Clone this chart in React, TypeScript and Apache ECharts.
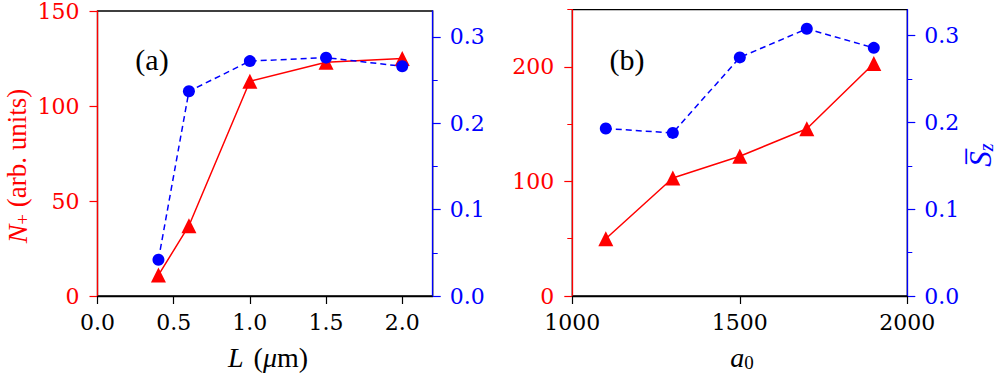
import React, { useEffect, useRef } from "react";
import * as echarts from "echarts";

const lValues = [0.4, 0.6, 1.0, 1.5, 2.0];
const nPlusA = [11, 37, 113, 123, 125];
const szA = [0.042, 0.237, 0.272, 0.276, 0.266];

const a0Values = [1100, 1300, 1500, 1700, 1900];
const nPlusB = [50, 103, 122, 146, 203];
const szB = [0.193, 0.188, 0.275, 0.308, 0.286];

const xTicksA = [0, 0.5, 1.0, 1.5, 2.0];
const szTicks = [0, 0.1, 0.2, 0.3];
const szMinor = [0.05, 0.15, 0.25];
const nTicksB = [0, 100, 200];
const nMinorB = [50, 150, 250];

const RED = "#ff0000";
const BLUE = "#0000ff";
const FONT = "'Liberation Serif', 'DejaVu Serif', serif";
const TICK_FONT = "DejaVu Serif";
const FS = 22;

const lab = (color: string, fmt: (v: number) => string) => ({
  formatter: fmt,
  fontFamily: TICK_FONT,
  fontSize: FS,
  color,
});

export default function App() {
  const ref = useRef<HTMLDivElement>(null);
  useEffect(() => {
    if (!ref.current) return;
    const chart = echarts.init(ref.current, null, { renderer: "svg" });
    const g0 = { left: 97.5, top: 9.7, width: 335.2, height: 286.3 };
    const g1 = { left: 572.3, top: 9.7, width: 335, height: 286.3 };
    const yAxisCommon = (grid: number, pos: string, color: string, min: number, max: number) => ({
      type: "value",
      gridIndex: grid,
      position: pos,
      min,
      max,
      splitLine: { show: false },
      axisLine: { show: true, lineStyle: { color, width: 1.3 } },
    });
    const f1 = (v: number) => v.toFixed(1);
    const f0 = (v: number) => String(v);
    const option: any = {
      animation: false,
      backgroundColor: "#ffffff",
      grid: [
        { ...g0, show: true, borderColor: "#000", borderWidth: 1.3, backgroundColor: "transparent" },
        { ...g1, show: true, borderColor: "#000", borderWidth: 1.3, backgroundColor: "transparent" },
      ],
      xAxis: [
        {
          type: "value",
          gridIndex: 0,
          min: 0,
          max: 2.2,
          splitLine: { show: false },
          axisLine: { show: true, onZero: false, lineStyle: { color: "#000", width: 1.3 } },
          axisTick: { show: true, length: 8, customValues: xTicksA, lineStyle: { color: "#000", width: 1.2 } },
          axisLabel: { ...lab("#000", f1), margin: 15, customValues: xTicksA },
        },
        {
          type: "value",
          gridIndex: 1,
          min: 1000,
          max: 2000,
          interval: 500,
          splitLine: { show: false },
          axisLine: { show: true, onZero: false, lineStyle: { color: "#000", width: 1.3 } },
          axisTick: { show: true, length: 8, lineStyle: { color: "#000", width: 1.2 } },
          axisLabel: { ...lab("#000", f0), margin: 15 },
        },
      ],
      yAxis: [
        {
          ...yAxisCommon(0, "left", RED, 0, 150),
          interval: 50,
          axisTick: { show: true, length: 8, lineStyle: { color: RED, width: 1.2 } },
          axisLabel: { ...lab(RED, f0), margin: 18 },
        },
        {
          ...yAxisCommon(0, "right", BLUE, 0, 0.33),
          axisTick: { show: true, length: 8, customValues: szTicks, lineStyle: { color: BLUE, width: 1.2 } },
          axisLabel: { ...lab(BLUE, f1), margin: 17, customValues: szTicks },
        },
        {
          ...yAxisCommon(0, "right", BLUE, 0, 0.33),
          axisLine: { show: false },
          axisTick: { show: true, length: 5, customValues: szMinor, lineStyle: { color: BLUE, width: 1 } },
          axisLabel: { show: false },
        },
        {
          ...yAxisCommon(1, "left", RED, 0, 250),
          axisTick: { show: true, length: 8, customValues: nTicksB, lineStyle: { color: RED, width: 1.2 } },
          axisLabel: { ...lab(RED, f0), margin: 18, customValues: nTicksB },
        },
        {
          ...yAxisCommon(1, "left", RED, 0, 250),
          axisLine: { show: false },
          axisTick: { show: true, length: 5, customValues: nMinorB, lineStyle: { color: RED, width: 1 } },
          axisLabel: { show: false },
        },
        {
          ...yAxisCommon(1, "right", BLUE, 0, 0.33),
          axisTick: { show: true, length: 8, customValues: szTicks, lineStyle: { color: BLUE, width: 1.2 } },
          axisLabel: { ...lab(BLUE, f1), margin: 17, customValues: szTicks },
        },
        {
          ...yAxisCommon(1, "right", BLUE, 0, 0.33),
          axisLine: { show: false },
          axisTick: { show: true, length: 5, customValues: szMinor, lineStyle: { color: BLUE, width: 1 } },
          axisLabel: { show: false },
        },
      ],
      series: [
        {
          type: "line",
          xAxisIndex: 0,
          yAxisIndex: 0,
          data: lValues.map((x, i) => [x, nPlusA[i]]),
          symbol: "triangle",
          symbolSize: 15,
          itemStyle: { color: RED },
          lineStyle: { color: RED, width: 1.5 },
        },
        {
          type: "line",
          xAxisIndex: 0,
          yAxisIndex: 1,
          data: lValues.map((x, i) => [x, szA[i]]),
          symbol: "circle",
          symbolSize: 12,
          itemStyle: { color: BLUE },
          lineStyle: { color: BLUE, width: 1.5, type: [6, 4] },
        },
        {
          type: "line",
          xAxisIndex: 1,
          yAxisIndex: 3,
          data: a0Values.map((x, i) => [x, nPlusB[i]]),
          symbol: "triangle",
          symbolSize: 15,
          itemStyle: { color: RED },
          lineStyle: { color: RED, width: 1.5 },
        },
        {
          type: "line",
          xAxisIndex: 1,
          yAxisIndex: 5,
          data: a0Values.map((x, i) => [x, szB[i]]),
          symbol: "circle",
          symbolSize: 12,
          itemStyle: { color: BLUE },
          lineStyle: { color: BLUE, width: 1.5, type: [6, 4] },
        },
      ],
      graphic: [
        {
          type: "text",
          x: 152,
          y: 59,
          style: { text: "(a)", fontFamily: FONT, fontSize: 30, fill: "#000", align: "center", verticalAlign: "middle" },
        },
        {
          type: "text",
          x: 627,
          y: 59,
          style: { text: "(b)", fontFamily: FONT, fontSize: 30, fill: "#000", align: "center", verticalAlign: "middle" },
        },
        {
          type: "text",
          x: 17,
          y: 166,
          rotation: Math.PI / 2,
          style: {
            text: "{i|N}{s|+}{r| (arb. units)}",
            align: "center",
            verticalAlign: "middle",
            fill: RED,
            rich: {
              i: { fontFamily: FONT, fontSize: 28, fontStyle: "italic", fill: RED, lineHeight: 30, verticalAlign: "middle" },
              s: { fontFamily: FONT, fontSize: 19, fill: RED, lineHeight: 14, verticalAlign: "bottom" },
              r: { fontFamily: FONT, fontSize: 27, fill: RED, lineHeight: 30, verticalAlign: "middle" },
            },
          },
        },
        {
          type: "text",
          x: 268,
          y: 357,
          style: {
            text: "{L|L}{r| (}{i|μ}{r|m)}",
            align: "center",
            verticalAlign: "middle",
            fill: "#000",
            rich: {
              L: { fontFamily: FONT, fontSize: 28, fontStyle: "italic", fill: "#000", lineHeight: 30, padding: [0, 3, 0, 0] },
              i: { fontFamily: FONT, fontSize: 28, fontStyle: "italic", fill: "#000", lineHeight: 30 },
              r: { fontFamily: FONT, fontSize: 28, fill: "#000", lineHeight: 30 },
            },
          },
        },
        {
          type: "text",
          x: 742,
          y: 357,
          style: {
            text: "{i|a}{s|0}",
            align: "center",
            verticalAlign: "middle",
            fill: "#000",
            rich: {
              i: { fontFamily: FONT, fontSize: 28, fontStyle: "italic", fill: "#000", lineHeight: 30, verticalAlign: "middle" },
              s: { fontFamily: FONT, fontSize: 19, fill: "#000", lineHeight: 14, verticalAlign: "bottom" },
            },
          },
        },
        {
          type: "text",
          x: 980,
          y: 155,
          rotation: Math.PI / 2,
          style: {
            text: "{i|S\u0305}{s|z}",
            align: "center",
            verticalAlign: "middle",
            fill: BLUE,
            rich: {
              i: { fontFamily: FONT, fontSize: 31, fontStyle: "italic", fill: BLUE, lineHeight: 32, verticalAlign: "middle" },
              s: { fontFamily: FONT, fontSize: 20, fontStyle: "italic", fill: BLUE, lineHeight: 14, verticalAlign: "bottom" },
            },
          },
        },
      ],
    };
    chart.setOption(option);
    return () => chart.dispose();
  }, []);
  return <div ref={ref} style={{ width: 1000, height: 379, position: "fixed", left: 0, top: 0 }} />;
}
